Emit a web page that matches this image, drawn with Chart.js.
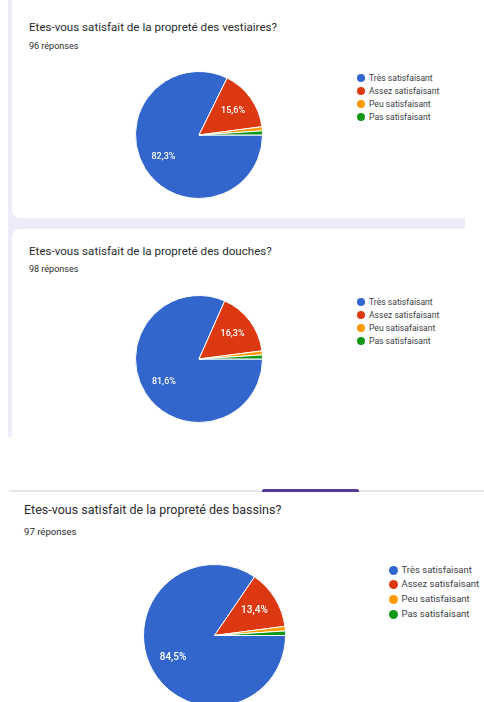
<!DOCTYPE html>
<html>
<head>
<meta charset="utf-8">
<script src="https://cdn.jsdelivr.net/npm/chart.js@4/dist/chart.umd.min.js"></script>
<style>
  html, body { margin: 0; padding: 0; background: #fff; }
  body { width: 484px; height: 702px; overflow: hidden; position: relative; font-family: Roboto, Arial, sans-serif; color: #2a2b2e; }
  .bg { position: absolute; left: 8px; top: 0; width: 457px; height: 437px; background: #efebf8; overflow: hidden; }
  .card { position: absolute; left: 4px; width: 470px; background: #fff; border-radius: 8px; }
  .abs { position: absolute; }
  .title { white-space: nowrap; }
  .count { white-space: nowrap; }
  .legend div { position: absolute; white-space: nowrap; color: #3c4043; }
  .legend span { position: absolute; border-radius: 50%; }
  .tabline { position: absolute; left: 9px; top: 490px; width: 475px; height: 2px; background: #e6e6e6; }
  .tab { position: absolute; left: 262px; top: 489px; width: 97px; height: 3px; background: #563a9c; border-radius: 2px 2px 0 0; }
</style>
</head>
<body>
<div class="bg">
  <div class="card" style="top:-10px;height:228px;"></div>
  <div class="card" style="top:229px;height:260px;"></div>
</div>
<div class="tabline"></div>
<div class="tab"></div>

<div class="abs title" style="left:29px;top:20px;font-size:11.6px;">Etes-vous satisfait de la propreté des vestiaires?</div>
<div class="abs count" style="left:29px;top:41px;font-size:9px;">96 réponses</div>
<canvas id="pie1" class="abs" style="left:135px;top:71px;"></canvas>
<div id="legend1" class="legend"></div>

<div class="abs title" style="left:29px;top:244px;font-size:11.6px;">Etes-vous satisfait de la propreté des douches?</div>
<div class="abs count" style="left:29px;top:264px;font-size:9px;">98 réponses</div>
<canvas id="pie2" class="abs" style="left:135px;top:295px;"></canvas>
<div id="legend2" class="legend"></div>

<div class="abs title" style="left:24px;top:502px;font-size:12.5px;">Etes-vous satisfait de la propreté des bassins?</div>
<div class="abs count" style="left:24px;top:526px;font-size:9.6px;">97 réponses</div>
<canvas id="pie3" class="abs" style="left:143px;top:564px;"></canvas>
<div id="legend3" class="legend"></div>

<script>
// answers (one count per category)
const categories = ["Très satisfaisant", "Assez satisfaisant", "Peu satisfaisant", "Pas satisfaisant"];
const categoriesDouches = ["Très satisfaisant", "Assez satisfaisant", "Peu satisafaisant", "Pas satisfaisant"];
const vestiaires = [79, 15, 1, 1];
const douches = [80, 16, 1, 1];
const bassins = [82, 13, 1, 1];
const colors = ["#3366cc", "#dc3912", "#ff9900", "#109618"];

// percentage labels inside the big slices, google forms style
const sliceLabels = {
  id: "sliceLabels",
  afterDatasetsDraw(chart, args, opts) {
    const ctx = chart.ctx;
    const data = chart.data.datasets[0].data;
    const total = data.reduce((a, b) => a + b, 0);
    ctx.save();
    ctx.fillStyle = "#fff";
    ctx.font = "500 " + opts.size + "px Roboto, Arial, sans-serif";
    ctx.textAlign = "center";
    ctx.textBaseline = "middle";
    chart.getDatasetMeta(0).data.forEach((arc, i) => {
      const pct = data[i] / total * 100;
      if (pct < 5) return;
      const p = arc.getProps(["x", "y", "startAngle", "endAngle", "outerRadius"]);
      const mid = (p.startAngle + p.endAngle) / 2;
      const d = p.outerRadius * 0.66;
      ctx.fillText(pct.toFixed(1).replace(".", ",") + "%", p.x + Math.cos(mid) * d, p.y + Math.sin(mid) * d);
    });
    ctx.restore();
  }
};

function makePie(id, size, labels, values, fontSize) {
  const el = document.getElementById(id);
  el.width = size;
  el.height = size;
  el.style.width = size + "px";
  el.style.height = size + "px";
  return new Chart(el, {
    type: "pie",
    data: {
      labels: labels,
      datasets: [{
        data: values,
        backgroundColor: colors,
        borderColor: "#fff",
        borderWidth: 1
      }]
    },
    options: {
      responsive: false,
      animation: false,
      rotation: 90,
      layout: { padding: 0 },
      plugins: {
        legend: { display: false },
        tooltip: { enabled: false },
        sliceLabels: { size: fontSize }
      }
    },
    plugins: [sliceLabels]
  });
}

function makeLegend(id, labels, x, y, step, dot, fontSize) {
  const box = document.getElementById(id);
  labels.forEach((txt, i) => {
    const cy = y + i * step;
    const s = document.createElement("span");
    s.style.left = (x - dot / 2) + "px";
    s.style.top = (cy - dot / 2) + "px";
    s.style.width = dot + "px";
    s.style.height = dot + "px";
    s.style.background = colors[i];
    box.appendChild(s);
    const t = document.createElement("div");
    t.textContent = txt;
    t.style.left = (x + dot / 2 + 4) + "px";
    t.style.top = (cy - step / 2) + "px";
    t.style.lineHeight = step + "px";
    t.style.fontSize = fontSize + "px";
    box.appendChild(t);
  });
}

makePie("pie1", 128, categories, vestiaires, 9);
makePie("pie2", 128, categoriesDouches, douches, 9);
makePie("pie3", 143, categories, bassins, 10);

makeLegend("legend1", categories, 361, 78, 13, 8, 8.6);
makeLegend("legend2", categoriesDouches, 361, 302, 13, 8, 8.6);
makeLegend("legend3", categories, 393, 570, 14.7, 9, 9.5);
</script>
</body>
</html>
